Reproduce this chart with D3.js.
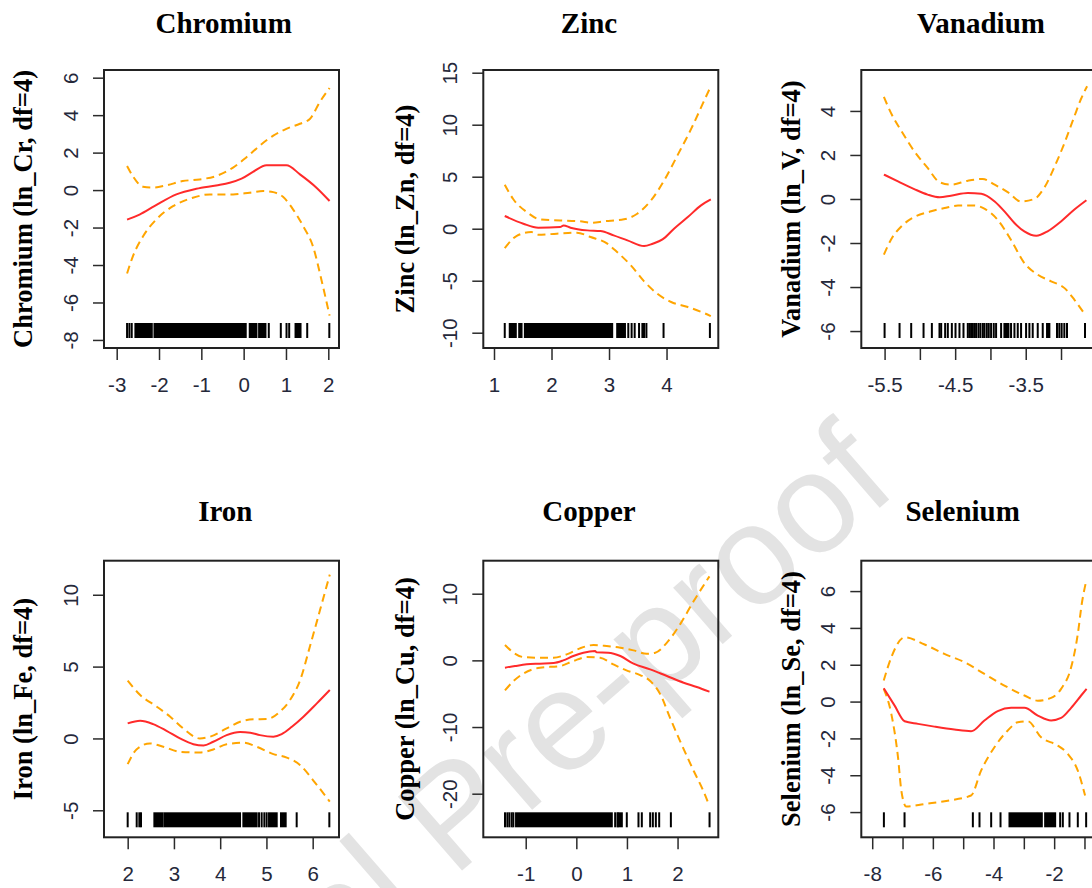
<!DOCTYPE html>
<html>
<head>
<meta charset="utf-8">
<script src="https://cdn.jsdelivr.net/npm/d3@7"></script>
<style>
  body { margin: 0; background: #fff; }
  svg { display: block; overflow: hidden; }
  .tick text { font-family: "Liberation Sans", Arial, sans-serif; font-size: 20.5px; fill: #25283a; }
  .tick line { stroke: #2b2b2b; stroke-width: 1.5; }
</style>
</head>
<body>
<svg id="chart" width="1092" height="888"></svg>
<script>
// ---- data (x = ln concentration, y = smooth term) ----
const crFit = [[-2.755,-1.58],[-2.46,-1.31],[-2.11,-0.86],[-1.59,-0.23],[-1.12,0.07],[-0.65,0.25],[-0.33,0.39],[-0.05,0.61],[0.22,0.97],[0.54,1.33],[1.01,1.33],[1.33,0.84],[1.72,0.13],[2.03,-0.58]];
const crUpper = [[-2.755,1.29],[-2.62,0.75],[-2.38,0.18],[-2.15,0.13],[-1.83,0.25],[-1.44,0.48],[-1.04,0.57],[-0.65,0.75],[-0.25,1.2],[0.06,1.74],[0.38,2.37],[0.70,2.91],[1.01,3.27],[1.33,3.54],[1.57,3.81],[1.80,4.70],[2.03,5.45]];
const crLower = [[-2.755,-4.45],[-2.62,-3.55],[-2.38,-2.48],[-2.07,-1.58],[-1.67,-0.86],[-1.2,-0.41],[-0.80,-0.23],[-0.25,-0.23],[0.14,-0.14],[0.46,-0.05],[0.70,-0.11],[0.93,-0.36],[1.17,-1.04],[1.41,-1.94],[1.64,-3.02],[1.84,-4.81],[2.03,-6.7]];
const crRugTicks = [-2.755,-2.70,-2.645,0.594,0.878,1.013,1.076,1.502,2.024];
const crRugBlocks = [[-2.558,-2.171],[-2.107,0.049],[0.144,0.302],[0.365,0.515],[1.226,1.344]];

const znFit = [[1.187,1.22],[1.51,0.48],[1.77,0.10],[2.15,0.16],[2.21,0.32],[2.33,0.10],[2.62,-0.16],[2.85,-0.22],[3.08,-0.64],[3.32,-1.12],[3.61,-1.67],[3.76,-1.44],[3.93,-1.03],[4.13,0],[4.37,1.12],[4.60,2.24],[4.77,2.82]];
const znUpper = [[1.187,4.23],[1.33,2.88],[1.57,1.60],[1.80,0.90],[2.15,0.80],[2.50,0.71],[2.70,0.58],[2.91,0.71],[3.26,0.90],[3.49,1.44],[3.73,2.72],[3.96,4.65],[4.19,7.05],[4.43,9.62],[4.63,12.02],[4.77,13.7]];
const znLower = [[1.187,-1.86],[1.39,-0.71],[1.65,-0.32],[1.77,-0.58],[2.09,-0.48],[2.44,-0.38],[2.68,-0.80],[2.97,-1.44],[3.14,-2.24],[3.38,-3.53],[3.61,-5.06],[3.84,-6.25],[4.08,-7.05],[4.37,-7.53],[4.64,-8.08],[4.77,-8.4]];
const znRugTicks = [1.187,3.335,3.393,3.446,3.522,3.65,3.948,4.754];
const znRugBlocks = [[1.274,1.379],[1.438,1.479],[1.537,3.055],[3.142,3.277],[3.58,3.61]];

const vFit = [[-5.51,1.11],[-5.31,0.80],[-5.08,0.45],[-4.89,0.20],[-4.72,0.08],[-4.56,0.15],[-4.32,0.27],[-4.13,0.24],[-3.94,-0.11],[-3.78,-0.64],[-3.66,-1.09],[-3.52,-1.47],[-3.35,-1.67],[-3.19,-1.47],[-3.0,-1.02],[-2.81,-0.48],[-2.64,-0.06]];
const vUpper = [[-5.51,4.64],[-5.41,3.91],[-5.26,3.08],[-5.08,2.17],[-4.89,1.41],[-4.72,0.76],[-4.56,0.65],[-4.32,0.83],[-4.11,0.91],[-3.94,0.65],[-3.75,0.30],[-3.57,-0.11],[-3.38,0.0],[-3.24,0.50],[-3.09,1.48],[-2.95,2.55],[-2.81,3.76],[-2.72,4.52],[-2.63,5.12]];
const vLower = [[-5.51,-2.53],[-5.41,-1.85],[-5.26,-1.24],[-5.08,-0.82],[-4.84,-0.56],[-4.65,-0.41],[-4.46,-0.30],[-4.23,-0.30],[-4.08,-0.45],[-3.90,-0.94],[-3.71,-1.85],[-3.52,-2.91],[-3.33,-3.44],[-3.14,-3.74],[-2.95,-4.05],[-2.81,-4.58],[-2.65,-5.30]];
const vRugTicks = [-5.5,-5.288,-5.123,-4.948,-4.830,-4.722,-4.698,-4.642,-4.604,-4.547,-4.495,-4.439,-4.382,-4.321,-4.297,-4.274,-4.250,-4.226,-4.203,-4.170,-4.142,-4.108,-4.085,-4.052,-4.024,-3.991,-3.953,-3.920,-3.849,-3.708,-3.660,-3.613,-3.566,-3.495,-3.448,-3.401,-3.330,-3.259,-3.057,-3.024,-2.991,-2.953,-2.915,-2.660];
const vRugBlocks = [[-3.802,-3.745],[-3.198,-3.165]];

const feFit = [[2.0,1.05],[2.27,1.23],[2.55,1.0],[2.84,0.53],[3.13,0],[3.42,-0.40],[3.64,-0.49],[3.85,-0.23],[4.14,0.23],[4.43,0.44],[4.65,0.40],[4.86,0.23],[5.15,0.12],[5.33,0.30],[5.55,0.81],[5.80,1.51],[6.09,2.44],[6.37,3.37]];
const feUpper = [[2.0,4.02],[2.27,3.02],[2.63,2.21],[2.92,1.51],[3.20,0.70],[3.56,0],[3.78,0.12],[4.14,0.70],[4.43,1.16],[4.72,1.33],[5.01,1.35],[5.29,1.86],[5.51,2.67],[5.73,4.07],[5.94,6.40],[6.16,8.95],[6.37,11.4]];
const feLower = [[2.0,-1.79],[2.19,-0.77],[2.48,-0.35],[2.77,-0.58],[3.13,-0.93],[3.56,-0.98],[3.85,-0.77],[4.14,-0.40],[4.50,-0.30],[4.79,-0.58],[5.15,-1.09],[5.44,-1.33],[5.73,-1.86],[6.01,-2.91],[6.37,-4.4]];
const feRugTicks = [2.0,2.195,2.252,2.288,4.840,4.897,4.955,5.005,5.654,6.36];
const feRugBlocks = [[2.577,2.75],[2.793,3.326],[3.369,4.429],[4.501,4.789],[5.056,5.222],[5.315,5.416]];

const cuFit = [[-1.41,-1.1],[-1.21,-0.85],[-0.98,-0.6],[-0.72,-0.5],[-0.45,-0.4],[-0.26,0],[-0.06,0.65],[0.14,1.15],[0.37,1.4],[0.40,1.2],[0.63,1.15],[0.87,0.65],[1.13,-0.5],[1.46,-1.35],[1.79,-2.35],[2.12,-3.35],[2.38,-4.0],[2.63,-4.7]];
const cuUpper = [[-1.41,2.3],[-1.24,1.15],[-1.05,0.5],[-0.78,0.4],[-0.45,0.4],[-0.19,0.9],[0.07,1.8],[0.34,2.3],[0.60,2.15],[0.87,1.9],[1.13,1.5],[1.39,1.0],[1.56,1.15],[1.79,2.65],[2.05,5.4],[2.32,8.9],[2.63,12.6]];
const cuLower = [[-1.41,-4.5],[-1.24,-3.1],[-1.05,-2.0],[-0.72,-1.1],[-0.32,-0.85],[-0.06,-0.1],[0.21,0.5],[0.47,0.4],[0.73,-0.6],[0.99,-1.5],[1.26,-2.2],[1.46,-3.1],[1.66,-5.1],[1.85,-8.6],[2.05,-12.1],[2.32,-16.6],[2.51,-19.6],[2.63,-21.85]];
const cuRugTicks = [-1.409,-1.363,-1.323,-1.277,-1.244,0.767,0.813,0.997,1.228,1.294,1.459,1.512,1.571,1.637,1.868,2.632];
const cuRugBlocks = [[-1.191,0.701],[0.833,0.899]];

const seFit = [[-7.62,0.72],[-7.26,-0.22],[-6.93,-1.07],[-6.49,-1.21],[-5.95,-1.36],[-5.29,-1.52],[-4.74,-1.61],[-4.30,-1.03],[-3.86,-0.52],[-3.42,-0.34],[-2.98,-0.34],[-2.54,-0.76],[-2.10,-1.03],[-1.77,-0.89],[-1.44,-0.34],[-1.11,0.33],[-0.93,0.69]];
const seUpper = [[-7.62,1.14],[-7.37,2.41],[-6.93,3.49],[-6.27,3.10],[-5.62,2.59],[-4.96,2.14],[-4.30,1.50],[-3.64,0.87],[-2.98,0.33],[-2.54,0.05],[-2.10,0.20],[-1.77,0.69],[-1.44,1.86],[-1.22,3.67],[-1.09,5.30],[-0.94,6.57]];
const seLower = [[-7.62,0.69],[-7.37,-0.67],[-7.15,-3.02],[-7.04,-4.83],[-6.88,-5.70],[-6.27,-5.56],[-5.51,-5.38],[-4.74,-5.10],[-4.41,-3.75],[-3.97,-2.48],[-3.53,-1.57],[-3.20,-1.12],[-2.87,-1.07],[-2.43,-1.94],[-1.88,-2.39],[-1.55,-2.84],[-1.22,-3.75],[-0.98,-5.10]];
const seRugTicks = [-7.615,-6.934,-4.681,-4.462,-4.077,-3.769,-1.802,-1.714,-1.495,-1.220,-0.945];
const seRugBlocks = [[-3.473,-2.407],[-2.297,-1.967]];

// axis ticks / labels
const crXTicks = [-3,-2,-1,0,1,2],          crYTicks = [-8,-6,-4,-2,0,2,4,6];
const znXTicks = [1,2,3,4],                 znYTicks = [-10,-5,0,5,10,15];
const vXTicks = [-5.5,-5,-4.5,-4,-3.5,-3],  vXLabels = [-5.5,-4.5,-3.5], vYTicks = [-6,-4,-2,0,2,4];
const feXTicks = [2,3,4,5,6],               feYTicks = [-5,0,5,10];
const cuXTicks = [-1,0,1,2],                cuYTicks = [-20,-10,0,10];
const seXTicks = [-8,-7,-6,-5,-4,-3,-2,-1], seXLabels = [-8,-6,-4,-2], seYTicks = [-6,-4,-2,0,2,4,6];

const panels = [
  {title: "Chromium", ylab: "Chromium (ln_Cr, df=4)", col: 0, row: 0, titleX: 223.7,
   xDom: [-3.30, 2.253], yDom: [-8.43, 6.41], xTicks: crXTicks, xLabels: crXTicks, yTicks: crYTicks,
   fit: crFit, upper: crUpper, lower: crLower, rug: crRugTicks, rugBlocks: crRugBlocks},
  {title: "Zinc", ylab: "Zinc (ln_Zn, df=4)", col: 1, row: 0, titleX: 589,
   xDom: [0.814, 4.90], yDom: [-11.47, 15.26], xTicks: znXTicks, xLabels: znXTicks, yTicks: znYTicks,
   fit: znFit, upper: znUpper, lower: znLower, rug: znRugTicks, rugBlocks: znRugBlocks},
  {title: "Vanadium", ylab: "Vanadium (ln_V, df=4)", col: 2, row: 0, titleX: 981,
   xDom: [-5.83, -2.50], yDom: [-6.77, 5.86], xTicks: vXTicks, xLabels: vXLabels, yTicks: vYTicks,
   fit: vFit, upper: vUpper, lower: vLower, rug: vRugTicks, rugBlocks: vRugBlocks},
  {title: "Iron", ylab: "Iron (ln_Fe, df=4)", col: 0, row: 1, titleX: 225.3,
   xDom: [1.488, 6.569], yDom: [-6.88, 12.37], xTicks: feXTicks, xLabels: feXTicks, yTicks: feYTicks,
   fit: feFit, upper: feUpper, lower: feLower, rug: feRugTicks, rugBlocks: feRugBlocks},
  {title: "Copper", ylab: "Copper (ln_Cu, df=4)", col: 1, row: 1, titleX: 589,
   xDom: [-1.838, 2.805], yDom: [-26.54, 14.95], xTicks: cuXTicks, xLabels: cuXTicks, yTicks: cuYTicks,
   fit: cuFit, upper: cuUpper, lower: cuLower, rug: cuRugTicks, rugBlocks: cuRugBlocks},
  {title: "Selenium", ylab: "Selenium (ln_Se, df=4)", col: 2, row: 1, titleX: 962.7,
   xDom: [-8.36, -0.61], yDom: [-7.37, 7.65], xTicks: seXTicks, xLabels: seXLabels, yTicks: seYTicks,
   fit: seFit, upper: seUpper, lower: seLower, rug: seRugTicks, rugBlocks: seRugBlocks}
];

// layout
const colLeft = [104, 483.3, 861.3];
const rowTop = [70, 560.7];
const rowH = [278, 276.6];
const frameW = 235;
const titleBase = [33, 520.5];
const ylabBase = [31.5, 414, 799.7];

const svg = d3.select("#chart");

// watermark behind everything
svg.append("text")
    .attr("transform", "translate(900,490) rotate(-41)")
    .attr("text-anchor", "end")
    .attr("font-family", "Liberation Sans, Arial, sans-serif")
    .attr("font-size", 142)
    .attr("fill", "#e3e3e3")
    .text("Journal Pre-proof");

panels.forEach(p => {
    const left = colLeft[p.col], top = rowTop[p.row], h = rowH[p.row];
    const x = d3.scaleLinear().domain(p.xDom).range([left, left + frameW]);
    const y = d3.scaleLinear().domain(p.yDom).range([top + h, top]);
    const g = svg.append("g");

    // title
    g.append("text")
        .attr("x", p.titleX).attr("y", titleBase[p.row])
        .attr("text-anchor", "middle")
        .attr("font-family", "Liberation Serif, Times New Roman, serif")
        .attr("font-weight", "bold").attr("font-size", 29)
        .text(p.title);

    // y axis title
    g.append("text")
        .attr("transform", `translate(${ylabBase[p.col]},${top + h / 2}) rotate(-90)`)
        .attr("text-anchor", "middle")
        .attr("font-family", "Liberation Serif, Times New Roman, serif")
        .attr("font-weight", "bold").attr("font-size", 26.5)
        .text(p.ylab);

    // x axis
    const xAxis = d3.axisBottom(x)
        .tickValues(p.xTicks)
        .tickSize(12)
        .tickFormat(d => p.xLabels.includes(d) ? String(d) : "");
    const gx = g.append("g").attr("transform", `translate(0,${top + h})`).call(xAxis);
    gx.select(".domain").remove();
    gx.selectAll(".tick text").attr("y", 43.5).attr("dy", 0);

    // y axis, labels turned like R's default
    const yAxis = d3.axisLeft(y)
        .tickValues(p.yTicks)
        .tickSize(11)
        .tickFormat(d => String(d));
    const gy = g.append("g").attr("transform", `translate(${left},0)`).call(yAxis);
    gy.select(".domain").remove();
    gy.selectAll(".tick text")
        .attr("transform", "rotate(-90)")
        .attr("text-anchor", "middle")
        .attr("x", 0).attr("y", -26).attr("dy", 0);

    // frame
    g.append("rect")
        .attr("x", left).attr("y", top)
        .attr("width", frameW).attr("height", h)
        .attr("fill", "none").attr("stroke", "#222").attr("stroke-width", 2);

    // rug
    const rugTop = top + h - 25, rugBot = top + h - 10;
    g.selectAll("line.rug").data(p.rug).join("line")
        .attr("class", "rug")
        .attr("x1", d => x(d)).attr("x2", d => x(d))
        .attr("y1", rugTop).attr("y2", rugBot)
        .attr("stroke", "#000").attr("stroke-width", 2);
    g.selectAll("rect.rugblock").data(p.rugBlocks).join("rect")
        .attr("class", "rugblock")
        .attr("x", d => x(d[0]) - 1)
        .attr("width", d => x(d[1]) - x(d[0]) + 2)
        .attr("y", rugTop).attr("height", rugBot - rugTop)
        .attr("fill", "#000");

    // curves
    const line = d3.line().x(d => x(d[0])).y(d => y(d[1])).curve(d3.curveMonotoneX);
    [p.upper, p.lower].forEach(s => {
        g.append("path").attr("d", line(s))
            .attr("fill", "none").attr("stroke", "#ffa500")
            .attr("stroke-width", 2).attr("stroke-dasharray", "8,5");
    });
    g.append("path").attr("d", line(p.fit))
        .attr("fill", "none").attr("stroke", "#ff2a2a").attr("stroke-width", 2);
});
</script>
</body>
</html>
